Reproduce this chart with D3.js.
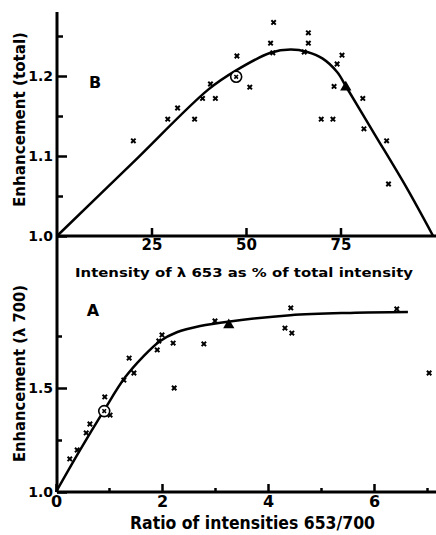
<!DOCTYPE html>
<html>
<head>
<meta charset="utf-8">
<script src="https://cdn.jsdelivr.net/npm/d3@7"></script>
<style>
  body { margin: 0; background: #fff; }
  svg { display: block; }
  text { font-family: "DejaVu Sans", sans-serif; font-weight: bold; fill: #000; }
</style>
</head>
<body>
<figure id="chart" style="margin:0"></figure>
<script>
// ---- panel B: enhancement (total) vs intensity of 653 as % of total
const bPct = [20.2, 29.3, 31.9, 36.4, 38.5, 40.6, 41.9, 47.6, 51.0, 56.5, 57.3, 57.1,
  66.5, 66.5, 65.4, 75.4, 74.1, 73.3, 80.9, 69.9, 73.0, 81.2, 87.2, 87.7];
const bEnh = [1.119, 1.146, 1.160, 1.146, 1.172, 1.190, 1.172, 1.225, 1.186, 1.241, 1.267, 1.229,
  1.254, 1.241, 1.230, 1.226, 1.215, 1.187, 1.172, 1.146, 1.146, 1.134, 1.119, 1.065];
const bCircled = [47.4, 1.199];
const bTriangle = [76.4, 1.186];
const bCurvePct = [0, 20, 40, 47.4, 56.5, 61.8, 66.2, 70.2, 74.1, 76.7, 83.8, 92.4, 99.5];
const bCurveEnh = [1.0, 1.0914, 1.183, 1.207, 1.229, 1.233, 1.230, 1.222, 1.205, 1.185, 1.129, 1.061, 1.0];
const bTicksMajor = [25, 50, 75];
const bYMajor = [1.0, 1.1, 1.2];
const bYMinor = [1.05, 1.15, 1.25];

// ---- panel A: enhancement (lambda 700) vs ratio 653/700
const aRatio = [0.26, 0.40, 0.57, 0.64, 0.92, 1.02, 1.28, 1.38, 1.47, 1.91, 2.00, 1.94,
  2.21, 2.23, 2.79, 3.00, 4.43, 4.32, 4.45, 6.43, 7.04];
const aEnh = [1.159, 1.202, 1.284, 1.327, 1.457, 1.370, 1.538, 1.644, 1.572, 1.683, 1.755, 1.726,
  1.716, 1.500, 1.712, 1.822, 1.885, 1.788, 1.764, 1.880, 1.572];
const aCircled = [0.91, 1.389];
const aTriangle = [3.26, 1.803];
const aCurveRatio = [0, 0.45, 0.9, 1.3, 1.64, 1.96, 2.28, 2.72, 3.28, 4.42, 5.55, 6.64];
const aCurveEnh = [1.0, 1.2, 1.39, 1.55, 1.65, 1.725, 1.768, 1.798, 1.82, 1.85, 1.861, 1.865];
const aXMajor = [0, 2, 4, 6];
const aXMinor = [1, 3, 5, 7];
const aYMajor = [1.0, 1.5];
const aYMinor = [1.25, 1.75];

const width = 436, height = 535;
const svg = d3.select('figure#chart').append('svg')
  .attr('width', width).attr('height', height);

const xB = d3.scaleLinear().domain([0, 100]).range([57, 435]);
const yB = d3.scaleLinear().domain([1.0, 1.28]).range([236, 12]);
const xA = d3.scaleLinear().domain([0, 7]).range([56, 427]);
const yA = d3.scaleLinear().domain([1.0, 2.0]).range([492, 284]);

// shared left axis line
svg.append('line')
  .attr('x1', 57).attr('x2', 57)
  .attr('y1', yB(1.28)).attr('y2', yA(1.0))
  .attr('stroke', '#000').attr('stroke-width', 3);

// baselines
svg.append('line').attr('x1', 57).attr('x2', 436)
  .attr('y1', yB(1.0)).attr('y2', yB(1.0))
  .attr('stroke', '#000').attr('stroke-width', 3);
svg.append('line').attr('x1', 57).attr('x2', 436)
  .attr('y1', yA(1.0)).attr('y2', yA(1.0))
  .attr('stroke', '#000').attr('stroke-width', 3);

function styleAxis(g, size) {
  g.select('.domain').remove();
  g.selectAll('line').attr('stroke', '#000').attr('stroke-width', 2.5);
  g.selectAll('text').attr('font-size', size).attr('fill', '#000');
}

// panel B axes
svg.append('g').attr('transform', `translate(0,${yB(1.0)})`)
  .call(d3.axisBottom(xB).tickValues(bTicksMajor).tickSize(-8).tickPadding(3).tickFormat(d3.format('d')))
  .call(g => styleAxis(g, 15));
svg.append('g').attr('transform', 'translate(57,0)')
  .call(d3.axisLeft(yB).tickValues(bYMajor).tickSize(-10).tickPadding(4).tickFormat(d3.format('.1f')))
  .call(g => styleAxis(g, 14));
svg.append('g').attr('transform', 'translate(57,0)')
  .call(d3.axisLeft(yB).tickValues(bYMinor).tickSize(-6).tickFormat(''))
  .call(g => styleAxis(g, 14));

// panel A axes
svg.append('g').attr('transform', `translate(0,${yA(1.0)})`)
  .call(d3.axisBottom(xA).tickValues(aXMajor).tickSize(-8).tickPadding(4).tickFormat(d3.format('d')))
  .call(g => styleAxis(g, 16));
svg.append('g').attr('transform', `translate(0,${yA(1.0)})`)
  .call(d3.axisBottom(xA).tickValues(aXMinor).tickSize(-4).tickFormat(''))
  .call(g => styleAxis(g, 16));
svg.append('g').attr('transform', 'translate(57,0)')
  .call(d3.axisLeft(yA).tickValues(aYMajor).tickSize(-10).tickPadding(4).tickFormat(d3.format('.1f')))
  .call(g => styleAxis(g, 14));
svg.append('g').attr('transform', 'translate(57,0)')
  .call(d3.axisLeft(yA).tickValues(aYMinor).tickSize(-5).tickFormat(''))
  .call(g => styleAxis(g, 14));

// curves
const lineB = d3.line().x(i => xB(bCurvePct[i])).y(i => yB(bCurveEnh[i])).curve(d3.curveCatmullRom.alpha(0.5));
svg.append('path').attr('d', lineB(d3.range(bCurvePct.length)))
  .attr('fill', 'none').attr('stroke', '#000').attr('stroke-width', 2.5);
const lineA = d3.line().x(i => xA(aCurveRatio[i])).y(i => yA(aCurveEnh[i])).curve(d3.curveCatmullRom.alpha(0.5));
svg.append('path').attr('d', lineA(d3.range(aCurveRatio.length)))
  .attr('fill', 'none').attr('stroke', '#000').attr('stroke-width', 2.5);

// markers
const cross = 'M-2.2,-2.2L2.2,2.2M-2.2,2.2L2.2,-2.2';
function drawCrosses(xs, ys, xScale, yScale) {
  svg.append('g').selectAll('path').data(d3.range(xs.length)).enter()
    .append('path')
    .attr('d', cross)
    .attr('transform', i => `translate(${xScale(xs[i])},${yScale(ys[i])})`)
    .attr('stroke', '#000').attr('stroke-width', 2).attr('fill', 'none');
}
drawCrosses(bPct, bEnh, xB, yB);
drawCrosses(aRatio, aEnh, xA, yA);

function drawCircled(p, xScale, yScale) {
  const g = svg.append('g').attr('transform', `translate(${xScale(p[0])},${yScale(p[1])})`);
  g.append('circle').attr('r', 5.5).attr('fill', '#fff').attr('stroke', '#000').attr('stroke-width', 1.6);
  g.append('path').attr('d', 'M-1.8,-1.8L1.8,1.8M-1.8,1.8L1.8,-1.8')
    .attr('stroke', '#000').attr('stroke-width', 1.6);
}
drawCircled(bCircled, xB, yB);
drawCircled(aCircled, xA, yA);

const tri = d3.symbol().type(d3.symbolTriangle).size(55);
svg.append('path').attr('d', tri())
  .attr('transform', `translate(${xB(bTriangle[0])},${yB(bTriangle[1])})`).attr('fill', '#000');
svg.append('path').attr('d', tri())
  .attr('transform', `translate(${xA(aTriangle[0])},${yA(aTriangle[1])})`).attr('fill', '#000');

// panel letters
svg.append('text').attr('x', 95).attr('y', 88).attr('text-anchor', 'middle')
  .attr('font-size', 16).text('B');
svg.append('text').attr('x', 93).attr('y', 316).attr('text-anchor', 'middle')
  .attr('font-size', 16).text('A');

// axis titles
svg.append('text').attr('x', 75).attr('y', 277)
  .attr('font-size', 13).attr('textLength', 338).attr('lengthAdjust', 'spacingAndGlyphs')
  .text('Intensity of λ 653 as % of total intensity');
svg.append('text').attr('x', 130).attr('y', 529)
  .attr('font-size', 17).attr('font-weight', 'normal').attr('textLength', 245).attr('lengthAdjust', 'spacingAndGlyphs')
  .text('Ratio of intensities 653/700');
svg.append('text').attr('transform', 'translate(25,207) rotate(-90)')
  .attr('font-size', 16).attr('textLength', 175).attr('lengthAdjust', 'spacingAndGlyphs')
  .text('Enhancement (total)');
svg.append('text').attr('transform', 'translate(25,462) rotate(-90)')
  .attr('font-size', 16).attr('textLength', 177).attr('lengthAdjust', 'spacingAndGlyphs')
  .text('Enhancement (λ 700)');
</script>
</body>
</html>
